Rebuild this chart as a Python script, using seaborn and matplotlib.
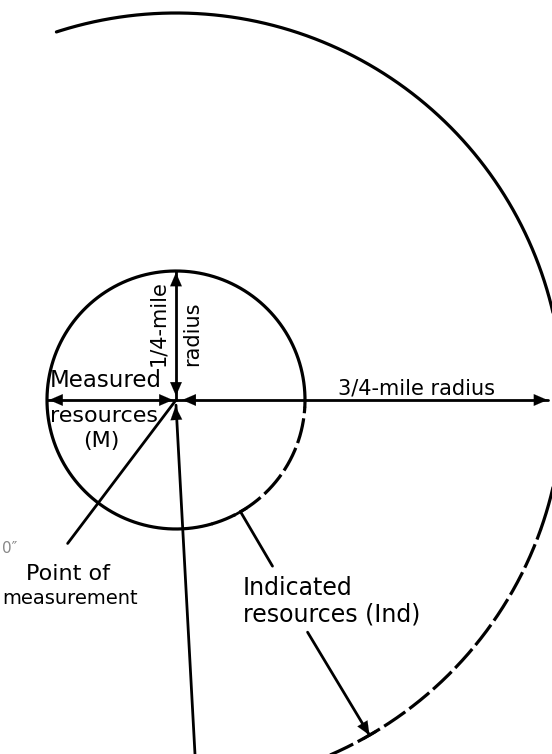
import numpy as np
import pandas as pd
import seaborn as sns
import matplotlib.pyplot as plt

# circle radii in miles, centred on the point of measurement
small_radius = 0.25
large_radius = 0.75

# arc pieces: radius, start/end angle (deg), dashed or not
arc_radius = [0.25, 0.25, 0.75, 0.75]
arc_start = [-3, -74, -19.5, -67]
arc_end = [286, -3, 108, -19.5]
arc_dashed = [False, True, False, True]

# leader lines (miles)
indicated_angle = -60
point_leader_end = (-0.21, -0.278)
long_line_end = (0.037, -0.69)
ind_leader_starts = [(0.187, -0.322), (0.255, -0.45)]
ind_leader_radius = [0.25, 0.75]

# labels
label_text = ["Measured", "resources", "(M)", "1/4-mile", "radius",
              "3/4-mile radius", "Point of", "measurement",
              "Indicated", "resources (Ind)"]
label_x = [-0.245, -0.245, -0.145, -0.035, 0.031, 0.466, -0.21, -0.205, 0.13, 0.13]
label_y = [0.037, -0.031, -0.08, 0.149, 0.128, 0.023, -0.338, -0.385, -0.365, -0.415]
label_rot = [0, 0, 0, 90, 90, 0, 0, 0, 0, 0]
label_ha = ["left", "left", "center", "center", "center", "center",
            "center", "center", "left", "left"]
label_size = [16.5, 16, 16, 15, 15, 15, 16, 14, 17, 17]

sns.set_theme(style="white")
plt.rcParams['font.family'] = ['DejaVu Sans']

SCALE = 516  # pixels per mile
fig = plt.figure(figsize=(5.52, 7.54), dpi=100)
ax = fig.add_axes([0, 0, 1, 1])
ax.set_xlim(-176 / SCALE, 376 / SCALE)
ax.set_ylim(-354 / SCALE, 400 / SCALE)
ax.axis('off')

LW = 2.3
dash = (0, (8, 1.6))

for r, a0, a1, d in zip(arc_radius, arc_start, arc_end, arc_dashed):
    t = np.radians(np.linspace(a0, a1, 400))
    arc = pd.DataFrame({'x': r * np.cos(t), 'y': r * np.sin(t)})
    sns.lineplot(data=arc, x='x', y='y', sort=False, estimator=None,
                 color='black', lw=LW, linestyle=dash if d else '-', ax=ax)


def seg(p, q, lw=2.0):
    sns.lineplot(x=[p[0], q[0]], y=[p[1], q[1]], sort=False, estimator=None,
                 color='black', lw=lw, ax=ax)


def head(tip, frm):
    ax.annotate('', xy=tip, xytext=frm,
                arrowprops=dict(arrowstyle='-|>,head_length=0.65,head_width=0.28',
                                color='black', lw=0.1, mutation_scale=15,
                                shrinkA=0, shrinkB=0))


c = (0, 0)
tip_r = large_radius * 0.96
# 1/4-mile radius (vertical)
seg(c, (0, small_radius))
head((0, small_radius - 0.003), (0, small_radius - 0.04))
head((0, 0.008), (0, 0.05))
# measured resources (left)
seg(c, (-small_radius, 0))
head((-small_radius + 0.004, 0), (-small_radius + 0.05, 0))
head((-0.006, 0), (-0.05, 0))
# 3/4-mile radius (right)
seg(c, (tip_r, 0))
head((tip_r, 0), (tip_r - 0.05, 0))
head((0.012, 0), (0.055, 0))
# long line from bottom
seg((0.0, -0.01), long_line_end)
head((-0.001, -0.012), (0.002, -0.06))
# point of measurement leader
seg(c, point_leader_end)

# indicated leaders with T bars
ang = np.radians(indicated_angle)
for (sx, sy), r in zip(ind_leader_starts, ind_leader_radius):
    ex, ey = r * np.cos(ang), r * np.sin(ang)
    seg((sx, sy), (ex, ey))
    tx, ty = -np.sin(ang) * 0.014, np.cos(ang) * 0.014
    seg((ex - tx, ey - ty), (ex + tx, ey + ty))
    if r == large_radius:
        head((ex, ey), (ex - (ex - sx) * 0.25, ey - (ey - sy) * 0.25))

for txt, x, y, rot, ha, fs in zip(label_text, label_x, label_y, label_rot,
                                  label_ha, label_size):
    ax.text(x, y, txt, rotation=rot, ha=ha, va='center', fontsize=fs,
            color='black')

ax.text(-0.338, -0.287, "0\u2033", fontsize=11, color='#888888',
        ha='left', va='center')

fig.savefig('out.png', dpi=100, facecolor='white')
